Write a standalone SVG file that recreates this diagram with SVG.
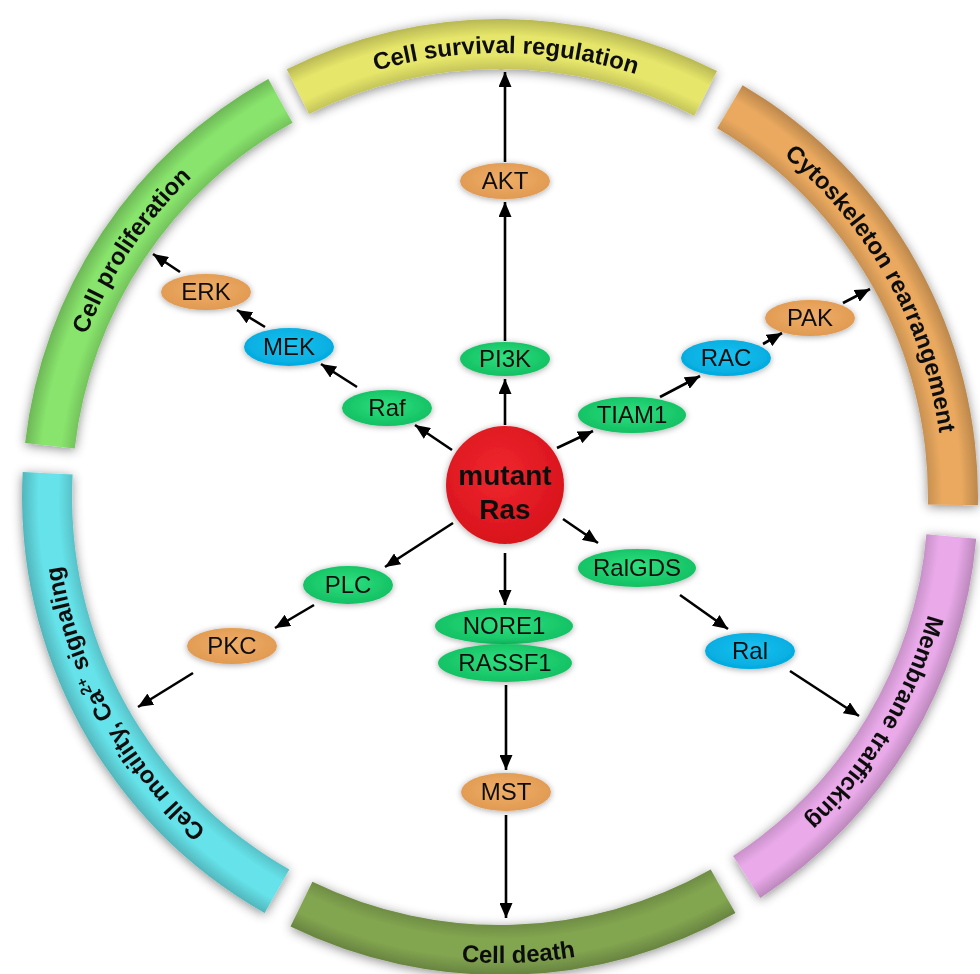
<svg xmlns="http://www.w3.org/2000/svg" xmlns:xlink="http://www.w3.org/1999/xlink" width="980" height="974" viewBox="0 0 980 974">
<defs>
<style>
.band-label{font-family:"Liberation Sans",Arial,sans-serif;font-weight:bold;font-size:24px;fill:#111;}
.lbl{font-family:"Liberation Sans",Arial,sans-serif;font-size:24px;fill:#111;text-anchor:middle;}
.ras{font-family:"Liberation Sans",Arial,sans-serif;font-weight:bold;font-size:28px;fill:#111;text-anchor:middle;}
.shade{fill:url(#ringShade);}
.band{filter:url(#shadow);}
.node{filter:url(#nshadow);}
.green{fill:url(#gGreen);}
.blue{fill:url(#gBlue);}
.orange{fill:url(#gOrange);}
#connectors line{stroke:#000;stroke-width:2.6;marker-end:url(#ah);}
</style>
<marker id="ah" markerUnits="userSpaceOnUse" markerWidth="15" markerHeight="13" refX="15" refY="6.5" orient="auto">
<path d="M0,0 L15,6.5 L0,13 z" fill="#000"/>
</marker>
<filter id="shadow" x="-20%" y="-20%" width="140%" height="140%">
<feDropShadow dx="0" dy="2" stdDeviation="5.5" flood-color="#000" flood-opacity="0.45"/>
</filter>
<filter id="nshadow" x="-30%" y="-40%" width="160%" height="180%">
<feDropShadow dx="0" dy="1" stdDeviation="3" flood-color="#000" flood-opacity="0.35"/>
</filter>
<radialGradient id="ringShade" gradientUnits="userSpaceOnUse" cx="500" cy="497" r="478">
<stop offset="0.88" stop-color="#000" stop-opacity="0.22"/>
<stop offset="0.925" stop-color="#000" stop-opacity="0"/>
<stop offset="0.965" stop-color="#000" stop-opacity="0"/>
<stop offset="1" stop-color="#000" stop-opacity="0.2"/>
</radialGradient>
<radialGradient id="gGreen" cx="0.5" cy="0.45" r="0.6">
<stop offset="0" stop-color="#2fe07f"/>
<stop offset="1" stop-color="#0fbd60"/>
</radialGradient>
<radialGradient id="gBlue" cx="0.5" cy="0.45" r="0.6">
<stop offset="0" stop-color="#1cc3f0"/>
<stop offset="1" stop-color="#00a8de"/>
</radialGradient>
<radialGradient id="gOrange" cx="0.5" cy="0.45" r="0.6">
<stop offset="0" stop-color="#f0ae68"/>
<stop offset="1" stop-color="#df9850"/>
</radialGradient>
<radialGradient id="gRed" cx="0.45" cy="0.4" r="0.6">
<stop offset="0" stop-color="#f0262e"/>
<stop offset="1" stop-color="#d8141c"/>
</radialGradient>
<path id="tpTop" d="M301.9,99.7 A444,444 0 0 1 701.6,101.4"/>
<path id="tpOrange" d="M725.3,114.5 A444,444 0 0 1 943.9,504.7"/>
<path id="tpPink" d="M942.3,535.7 A444,444 0 0 1 741.8,869.4"/>
<path id="tpBottom" d="M295.7,915.8 A466,466 0 0 0 729.5,902.6"/>
<path id="tpCyan" d="M281.4,883.5 A444,444 0 0 1 56.6,473.8"/>
<path id="tpGreen" d="M58.8,446.7 A444,444 0 0 1 284.7,108.7"/>
</defs>
<rect width="980" height="974" fill="#fff"/>

<g id="band-survival" class="band">
<path fill="#e6e66a" d="M286.7,69.2 A478,478 0 0 1 717.0,71.1 L694.3,115.7 A428,428 0 0 0 309.0,114.0 Z"/>
<path class="shade" d="M286.7,69.2 A478,478 0 0 1 717.0,71.1 L694.3,115.7 A428,428 0 0 0 309.0,114.0 Z"/>
<text class="band-label"><textPath href="#tpTop" xlink:href="#tpTop" startOffset="51%" text-anchor="middle">Cell survival regulation</textPath></text>
</g>
<g id="band-cytoskeleton" class="band">
<path fill="#eaa95f" d="M742.6,85.2 A478,478 0 0 1 977.9,505.3 L927.9,504.5 A428,428 0 0 0 717.2,128.2 Z"/>
<path class="shade" d="M742.6,85.2 A478,478 0 0 1 977.9,505.3 L927.9,504.5 A428,428 0 0 0 717.2,128.2 Z"/>
<text class="band-label"><textPath href="#tpOrange" xlink:href="#tpOrange" startOffset="50%" text-anchor="middle">Cytoskeleton rearrangement</textPath></text>
</g>
<g id="band-membrane" class="band">
<path fill="#eaaaea" d="M976.2,538.7 A478,478 0 0 1 760.3,897.9 L733.1,856.0 A428,428 0 0 0 926.4,534.3 Z"/>
<path class="shade" d="M976.2,538.7 A478,478 0 0 1 760.3,897.9 L733.1,856.0 A428,428 0 0 0 926.4,534.3 Z"/>
<text class="band-label"><textPath href="#tpPink" xlink:href="#tpPink" startOffset="50%" text-anchor="middle">Membrane trafficking</textPath></text>
</g>
<g id="band-death" class="band">
<path fill="#82a550" d="M735.4,913.1 A478,478 0 0 1 290.5,926.6 L312.4,881.7 A428,428 0 0 0 710.7,869.5 Z"/>
<path class="shade" d="M735.4,913.1 A478,478 0 0 1 290.5,926.6 L312.4,881.7 A428,428 0 0 0 710.7,869.5 Z"/>
<text class="band-label"><textPath href="#tpBottom" xlink:href="#tpBottom" startOffset="51%" text-anchor="middle">Cell death</textPath></text>
</g>
<g id="band-motility" class="band">
<path fill="#66e3ea" d="M264.6,913.1 A478,478 0 0 1 22.7,472.0 L72.6,474.6 A428,428 0 0 0 289.3,869.5 Z"/>
<path class="shade" d="M264.6,913.1 A478,478 0 0 1 22.7,472.0 L72.6,474.6 A428,428 0 0 0 289.3,869.5 Z"/>
<text class="band-label"><textPath href="#tpCyan" xlink:href="#tpCyan" startOffset="50%" text-anchor="middle">Cell motility, Ca<tspan baseline-shift="super" font-size="15">2+</tspan> signaling</textPath></text>
</g>
<g id="band-proliferation" class="band">
<path fill="#88e46c" d="M25.1,442.9 A478,478 0 0 1 268.3,78.9 L292.5,122.7 A428,428 0 0 0 74.7,448.6 Z"/>
<path class="shade" d="M25.1,442.9 A478,478 0 0 1 268.3,78.9 L292.5,122.7 A428,428 0 0 0 74.7,448.6 Z"/>
<text class="band-label"><textPath href="#tpGreen" xlink:href="#tpGreen" startOffset="50%" text-anchor="middle">Cell proliferation</textPath></text>
</g>

<g id="connectors">
<line x1="505" y1="425" x2="505" y2="379"/>
<line x1="505" y1="341" x2="505" y2="202"/>
<line x1="505" y1="162" x2="505" y2="72"/>
<line x1="452" y1="450" x2="415" y2="425"/>
<line x1="357" y1="387" x2="321" y2="364"/>
<line x1="265" y1="327" x2="237" y2="310"/>
<line x1="180" y1="272" x2="153" y2="254"/>
<line x1="557" y1="448" x2="593" y2="431"/>
<line x1="660" y1="397" x2="700" y2="376"/>
<line x1="763" y1="344" x2="782" y2="333"/>
<line x1="843" y1="303" x2="870" y2="289"/>
<line x1="453" y1="523" x2="385" y2="567"/>
<line x1="314" y1="605" x2="275" y2="628"/>
<line x1="193" y1="673" x2="138" y2="707"/>
<line x1="563" y1="519" x2="598" y2="543"/>
<line x1="680" y1="595" x2="728" y2="629"/>
<line x1="790" y1="671" x2="859" y2="716"/>
<line x1="505" y1="553" x2="505" y2="605"/>
<line x1="506" y1="685" x2="506" y2="770"/>
<line x1="506" y1="815" x2="506" y2="918"/>
</g>

<g id="node-ras" class="node">
<circle cx="505" cy="485" r="59" fill="url(#gRed)"/>
<text class="ras" x="505" y="485">mutant</text>
<text class="ras" x="505" y="519">Ras</text>
</g>
<g id="node-akt" class="node"><ellipse class="orange" cx="505" cy="181" rx="45" ry="18"/><text class="lbl" x="505" y="189">AKT</text></g>
<g id="node-pi3k" class="node"><ellipse class="green" cx="505" cy="359" rx="45" ry="17"/><text class="lbl" x="505" y="367">PI3K</text></g>
<g id="node-raf" class="node"><ellipse class="green" cx="387" cy="408" rx="45" ry="18"/><text class="lbl" x="387" y="416">Raf</text></g>
<g id="node-mek" class="node"><ellipse class="blue" cx="289" cy="347" rx="45" ry="19"/><text class="lbl" x="289" y="355">MEK</text></g>
<g id="node-erk" class="node"><ellipse class="orange" cx="206" cy="292" rx="45" ry="18"/><text class="lbl" x="206" y="300">ERK</text></g>
<g id="node-tiam1" class="node"><ellipse class="green" cx="632" cy="415" rx="54" ry="18"/><text class="lbl" x="632" y="423">TIAM1</text></g>
<g id="node-rac" class="node"><ellipse class="blue" cx="726" cy="358" rx="45" ry="18"/><text class="lbl" x="726" y="366">RAC</text></g>
<g id="node-pak" class="node"><ellipse class="orange" cx="810" cy="318" rx="45" ry="18"/><text class="lbl" x="810" y="326">PAK</text></g>
<g id="node-plc" class="node"><ellipse class="green" cx="348" cy="585" rx="45" ry="19"/><text class="lbl" x="348" y="593">PLC</text></g>
<g id="node-pkc" class="node"><ellipse class="orange" cx="232" cy="646" rx="45" ry="18"/><text class="lbl" x="232" y="654">PKC</text></g>
<g id="node-ralgds" class="node"><ellipse class="green" cx="637" cy="568" rx="59" ry="19"/><text class="lbl" x="637" y="576">RalGDS</text></g>
<g id="node-ral" class="node"><ellipse class="blue" cx="750" cy="651" rx="45" ry="18"/><text class="lbl" x="750" y="659">Ral</text></g>
<g id="node-nore1" class="node"><ellipse class="green" cx="504" cy="626" rx="69" ry="18"/><text class="lbl" x="504" y="634">NORE1</text></g>
<g id="node-rassf1" class="node"><ellipse class="green" cx="505" cy="663" rx="67" ry="19"/><text class="lbl" x="505" y="671">RASSF1</text></g>
<g id="node-mst" class="node"><ellipse class="orange" cx="506" cy="792" rx="45" ry="19"/><text class="lbl" x="506" y="800">MST</text></g>
</svg>
